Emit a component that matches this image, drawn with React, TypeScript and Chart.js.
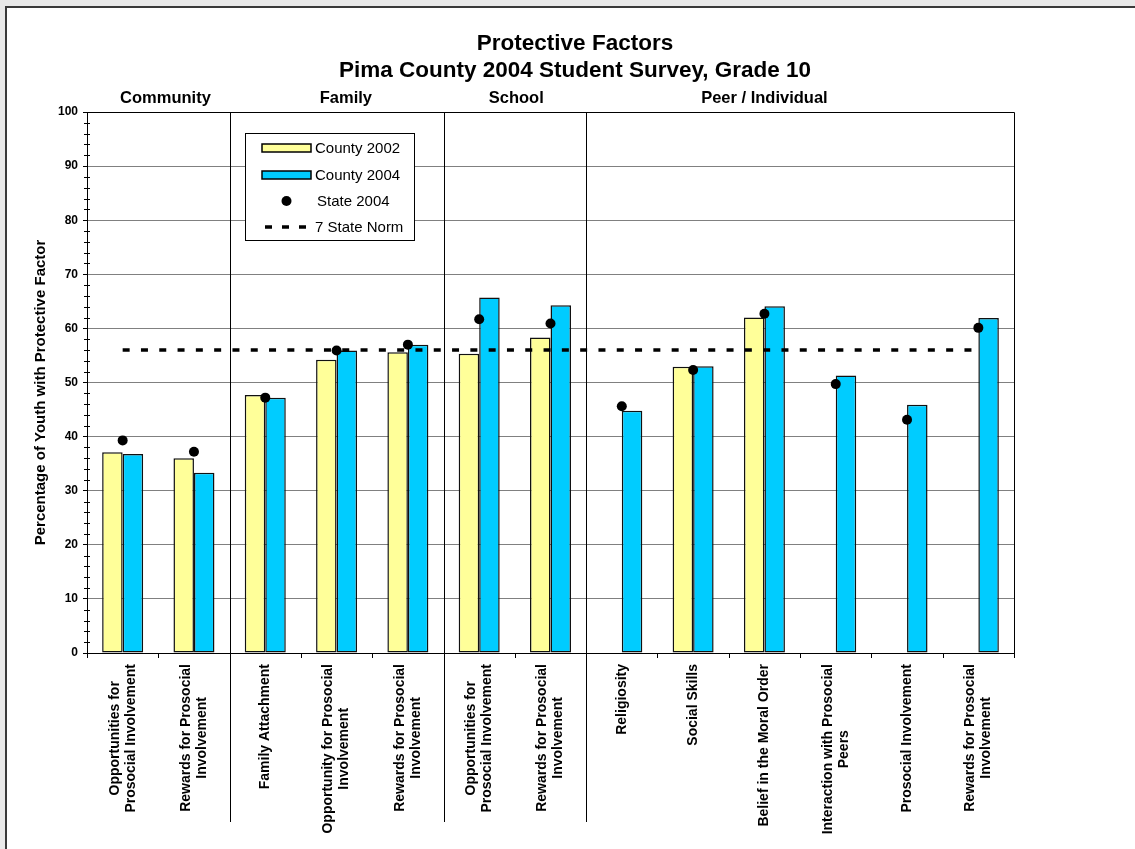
import React, { useEffect, useRef } from 'react';
import { Chart, registerables } from 'chart.js';

Chart.register(...registerables);

const FONT = '"Liberation Sans", Arial, Helvetica, sans-serif';

// ---- data ----
const categories: string[][] = [
  ['Opportunities for', 'Prosocial Involvement'],
  ['Rewards for Prosocial', 'Involvement'],
  ['Family Attachment'],
  ['Opportunity for Prosocial', 'Involvement'],
  ['Rewards for Prosocial', 'Involvement'],
  ['Opportunities for', 'Prosocial Involvement'],
  ['Rewards for Prosocial', 'Involvement'],
  ['Religiosity'],
  ['Social Skills'],
  ['Belief in the Moral Order'],
  ['Interaction with Prosocial', 'Peers'],
  ['Prosocial Involvement'],
  ['Rewards for Prosocial', 'Involvement'],
];

const county2002: (number | null)[] = [37.1, 36.0, 47.7, 54.2, 55.6, 55.3, 58.3, null, 52.9, 62.0, null, null, null];
const county2004: number[] = [36.8, 33.3, 47.2, 55.9, 57.0, 65.7, 64.3, 44.8, 53.0, 64.1, 51.3, 45.9, 61.9];
const state2004: number[] = [39.3, 37.2, 47.2, 55.9, 57.0, 61.7, 60.9, 45.6, 52.3, 62.7, 49.7, 43.1, 60.1];
const stateNorm: number[] = [56, 56, 56, 56, 56, 56, 56, 56, 56, 56, 56, 56, 56];

const groupNames: string[] = ['Community', 'Family', 'School', 'Peer / Individual'];
const groupSizes: number[] = [2, 3, 2, 6];
const groupLabelAt: number[] = [0.6, 3.13, 5.52, 9.0];

const titleLines: string[] = ['Protective Factors', 'Pima County 2004 Student Survey, Grade 10'];
const yTitle = 'Percentage of Youth with Protective Factor';
const legendLabels: string[] = ['County 2002', 'County 2004', 'State 2004', '7 State Norm'];

const YELLOW = '#FFFF99';
const BLUE = '#00CCFF';

const decorPlugin = {
  id: 'decor',
  afterDraw(chart: any) {
    const { ctx, chartArea: ca } = chart;
    const x = chart.scales.x;
    const y = chart.scales.y;
    ctx.save();

    // plot border (top & right)
    ctx.strokeStyle = '#000';
    ctx.lineWidth = 1;
    ctx.beginPath();
    ctx.moveTo(Math.round(ca.left) + 0.5, Math.round(ca.top) + 0.5);
    ctx.lineTo(Math.round(ca.right) + 0.5, Math.round(ca.top) + 0.5);
    ctx.lineTo(Math.round(ca.right) + 0.5, Math.round(ca.bottom) + 0.5);
    ctx.stroke();

    // minor y ticks
    ctx.beginPath();
    for (let v = 0; v <= 100; v += 2) {
      if (v % 10 === 0) continue;
      const py = Math.round(y.getPixelForValue(v)) + 0.5;
      ctx.moveTo(ca.left - 3, py);
      ctx.lineTo(ca.left + 3, py);
    }
    ctx.stroke();

    // x tick marks at category boundaries
    ctx.beginPath();
    for (let i = 0; i <= categories.length; i++) {
      const px = Math.round(x.getPixelForValue(i - 0.5)) + 0.5;
      ctx.moveTo(px, ca.bottom);
      ctx.lineTo(px, ca.bottom + 5);
    }
    ctx.stroke();

    // group separators
    ctx.beginPath();
    let cum = 0;
    for (let g = 0; g < groupSizes.length - 1; g++) {
      cum += groupSizes[g];
      const px = Math.round(x.getPixelForValue(cum - 0.5)) + 0.5;
      ctx.moveTo(px, ca.top);
      ctx.lineTo(px, 822);
    }
    ctx.stroke();

    // titles
    ctx.fillStyle = '#000';
    ctx.textAlign = 'center';
    ctx.textBaseline = 'middle';
    ctx.font = `bold 22.5px ${FONT}`;
    ctx.fillText(titleLines[0], 575, 44);
    ctx.fillText(titleLines[1], 575, 71);

    // group labels
    ctx.font = `bold 16.5px ${FONT}`;
    groupNames.forEach((name, i) => {
      ctx.fillText(name, x.getPixelForValue(groupLabelAt[i]), 98);
    });

    // y title
    ctx.save();
    ctx.translate(41, (ca.top + ca.bottom) / 2 + 10);
    ctx.rotate(-Math.PI / 2);
    ctx.font = `bold 15px ${FONT}`;
    ctx.fillText(yTitle, 0, 0);
    ctx.restore();

    // x labels (rotated, centered lines, end near axis)
    ctx.font = `bold 14px ${FONT}`;
    const lh = 16;
    categories.forEach((lines, i) => {
      const cx = x.getPixelForValue(i);
      const maxW = Math.max(...lines.map((l) => ctx.measureText(l).width));
      ctx.save();
      ctx.translate(cx, ca.bottom + 11);
      ctx.rotate(-Math.PI / 2);
      ctx.textAlign = 'center';
      ctx.textBaseline = 'middle';
      lines.forEach((l, j) => {
        ctx.fillText(l, -maxW / 2, (j - (lines.length - 1) / 2) * lh);
      });
      ctx.restore();
    });

    // legend
    const lx = ca.left + 158;
    const ly = ca.top + 21;
    const lw = 169;
    const lhh = 107;
    ctx.fillStyle = '#fff';
    ctx.fillRect(lx, ly, lw, lhh);
    ctx.strokeStyle = '#000';
    ctx.lineWidth = 1;
    ctx.strokeRect(lx + 0.5, ly + 0.5, lw, lhh);
    const rows = [ly + 15, ly + 42, ly + 68, ly + 94];
    const sx = lx + 17;
    const sw = 49;
    ctx.lineWidth = 1.5;
    ctx.fillStyle = YELLOW;
    ctx.fillRect(sx, rows[0] - 4, sw, 8);
    ctx.strokeRect(sx, rows[0] - 4, sw, 8);
    ctx.fillStyle = BLUE;
    ctx.fillRect(sx, rows[1] - 4, sw, 8);
    ctx.strokeRect(sx, rows[1] - 4, sw, 8);
    ctx.fillStyle = '#000';
    ctx.beginPath();
    ctx.arc(sx + sw / 2, rows[2], 5, 0, Math.PI * 2);
    ctx.fill();
    ctx.save();
    ctx.lineWidth = 3.5;
    ctx.setLineDash([7, 10]);
    ctx.beginPath();
    ctx.moveTo(sx + 3, rows[3]);
    ctx.lineTo(sx + sw, rows[3]);
    ctx.stroke();
    ctx.restore();
    ctx.font = `15px ${FONT}`;
    ctx.textAlign = 'left';
    ctx.textBaseline = 'middle';
    legendLabels.forEach((t, i) => {
      const tx = i === 2 ? sx + sw + 6 : sx + sw + 4;
      ctx.fillText(t, tx, rows[i] + 1);
    });

    ctx.restore();
  },
};

export default function App() {
  const ref = useRef<HTMLCanvasElement | null>(null);

  useEffect(() => {
    document.body.style.margin = '0';
    if (!ref.current) return;
    const chart = new Chart(ref.current, {
      type: 'bar',
      data: {
        labels: categories.map((c) => c.join(' ')),
        datasets: [
          {
            type: 'line',
            label: legendLabels[2],
            data: state2004,
            showLine: false,
            pointRadius: 5,
            pointBackgroundColor: '#000',
            pointBorderWidth: 0,
            pointHoverRadius: 5,
            order: 1,
          } as any,
          {
            type: 'line',
            label: legendLabels[3],
            data: stateNorm,
            borderColor: '#000',
            borderWidth: 3.5,
            borderDash: [7, 11.3],
            pointRadius: 0,
            fill: false,
            order: 2,
          } as any,
          {
            type: 'bar',
            label: legendLabels[0],
            data: county2002,
            backgroundColor: YELLOW,
            borderColor: '#111',
            borderWidth: 1.5,
            borderSkipped: false,
            categoryPercentage: 0.575,
            barPercentage: 1,
            order: 3,
          } as any,
          {
            type: 'bar',
            label: legendLabels[1],
            data: county2004,
            backgroundColor: BLUE,
            borderColor: '#111',
            borderWidth: 1.5,
            borderSkipped: false,
            categoryPercentage: 0.575,
            barPercentage: 1,
            order: 4,
          } as any,
        ],
      },
      options: {
        responsive: false,
        animation: false,
        devicePixelRatio: 1,
        layout: { padding: { top: 112, right: 121, left: 0, bottom: 0 } },
        plugins: {
          legend: { display: false },
          tooltip: { enabled: false },
          title: { display: false },
        },
        scales: {
          x: {
            type: 'category',
            offset: true,
            afterFit: (s: any) => {
              s.height = 196;
            },
            grid: { display: false, drawOnChartArea: false, drawTicks: false },
            border: { display: true, color: '#000', width: 1 },
            ticks: { display: false },
          },
          y: {
            min: 0,
            max: 100,
            afterFit: (s: any) => {
              s.width = 87;
            },
            ticks: {
              stepSize: 10,
              color: '#000',
              padding: 5,
              font: { family: FONT, size: 12, weight: 'bold' },
            },
            grid: {
              color: '#808080',
              lineWidth: 1,
              drawTicks: true,
              tickLength: 4,
              tickColor: '#000',
            },
            border: { display: true, color: '#000', width: 1 },
          },
        },
      } as any,
      plugins: [decorPlugin],
    });
    return () => chart.destroy();
  }, []);

  return (
    <div
      style={{
        position: 'fixed',
        left: 0,
        top: 0,
        width: 1135,
        height: 849,
        background: '#e9e9e9',
        overflow: 'hidden',
      }}
    >
      <div
        style={{
          position: 'absolute',
          left: 5,
          top: 6,
          width: 1200,
          height: 900,
          background: '#fff',
          borderLeft: '2px solid #3a3a3a',
          borderTop: '2px solid #3a3a3a',
        }}
      />
      <canvas
        ref={ref}
        width={1135}
        height={849}
        style={{ position: 'absolute', left: 0, top: 0, width: 1135, height: 849 }}
      />
    </div>
  );
}
